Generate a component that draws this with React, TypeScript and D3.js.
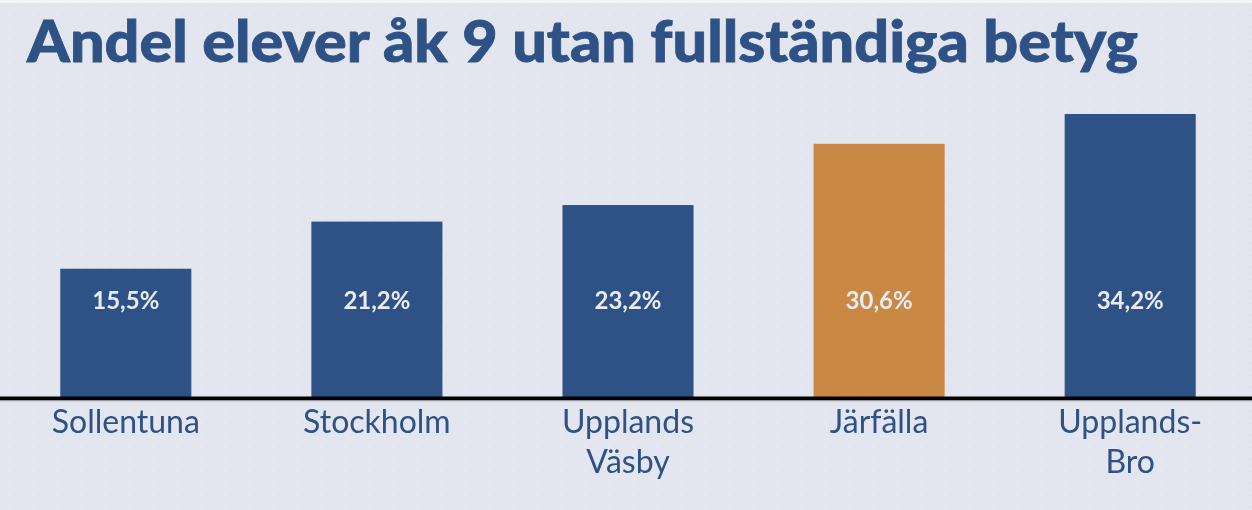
import React, { useRef, useEffect } from 'react';
import * as d3 from 'd3';

const municipalities = ['Sollentuna', 'Stockholm', 'Upplands Väsby', 'Järfälla', 'Upplands-Bro'];
const shares = [15.5, 21.2, 23.2, 30.6, 34.2];
const tickLines = [['Sollentuna'], ['Stockholm'], ['Upplands', 'Väsby'], ['Järfälla'], ['Upplands-', 'Bro']];
const highlighted = 'Järfälla';
const title = 'Andel elever åk 9 utan fullständiga betyg';

const W = 1252;
const H = 510;

const App: React.FC = () => {
  const svgRef = useRef<SVGSVGElement | null>(null);

  useEffect(() => {
    if (!svgRef.current) return;
    const svg = d3.select(svgRef.current);
    svg.selectAll('*').remove();

    const font = 'Lato, "Noto Sans", sans-serif';
    const navy = '#2f5286';
    const baseY = 397;

    // background + faint dot texture
    const defs = svg.append('defs');
    const pat = defs.append('pattern')
      .attr('id', 'dots')
      .attr('width', 12)
      .attr('height', 12)
      .attr('patternUnits', 'userSpaceOnUse');
    pat.append('rect').attr('width', 12).attr('height', 12).attr('fill', '#e3e6ee');
    pat.append('circle').attr('cx', 3).attr('cy', 3).attr('r', 0.6).attr('fill', '#d2d6e0');

    svg.append('rect').attr('width', W).attr('height', H).attr('fill', 'url(#dots)');
    svg.append('rect').attr('width', W).attr('height', 3).attr('fill', '#f4f5f8');

    // Title
    svg.append('text')
      .attr('x', 27)
      .attr('y', 62)
      .attr('fill', navy)
      .attr('font-family', font)
      .attr('font-weight', 900)
      .attr('font-size', 57)
      .attr('stroke', navy)
      .attr('stroke-width', 0.8)
      .attr('textLength', 1111)
      .attr('lengthAdjust', 'spacingAndGlyphs')
      .text(title);

    // Scales
    const x = d3.scaleBand<string>()
      .domain(municipalities)
      .range([0, 1256])
      .paddingInner(0.478)
      .paddingOuter(0.24);

    const y = d3.scaleLinear()
      .domain([0, 34.2])
      .range([baseY, 114]);

    const g = svg.append('g');

    g.selectAll('rect.bar')
      .data(municipalities)
      .enter()
      .append('rect')
      .attr('class', 'bar')
      .attr('x', d => x(d) || 0)
      .attr('width', x.bandwidth())
      .attr('y', (d, i) => y(shares[i]))
      .attr('height', (d, i) => baseY - y(shares[i]))
      .attr('fill', d => (d === highlighted ? '#c98843' : '#2f5286'));

    // Value labels
    g.selectAll('text.val')
      .data(municipalities)
      .enter()
      .append('text')
      .attr('class', 'val')
      .attr('x', d => (x(d) || 0) + x.bandwidth() / 2)
      .attr('y', 309)
      .attr('text-anchor', 'middle')
      .attr('fill', '#e8ebf2')
      .attr('font-family', font)
      .attr('font-weight', 700)
      .attr('font-size', 24)
      .text((d, i) => `${shares[i].toFixed(1).replace('.', ',')}%`);

    // Baseline
    svg.append('line')
      .attr('x1', 0)
      .attr('x2', W)
      .attr('y1', baseY + 1.5)
      .attr('y2', baseY + 1.5)
      .attr('stroke', '#000')
      .attr('stroke-width', 4);
    svg.append('line')
      .attr('x1', 0)
      .attr('x2', W)
      .attr('y1', baseY + 4)
      .attr('y2', baseY + 4)
      .attr('stroke', '#b9bcc4')
      .attr('stroke-width', 1);

    // Category labels
    municipalities.forEach((m, i) => {
      const t = svg.append('text')
        .attr('x', (x(m) || 0) + x.bandwidth() / 2)
        .attr('y', 433)
        .attr('text-anchor', 'middle')
        .attr('fill', navy)
        .attr('font-family', font)
        .attr('font-size', 32);
      tickLines[i].forEach((line, j) => {
        t.append('tspan')
          .attr('x', (x(m) || 0) + x.bandwidth() / 2)
          .attr('dy', j === 0 ? 0 : 40)
          .text(line);
      });
    });
  }, []);

  return (
    <div style={{ position: 'fixed', left: 0, top: 0, width: W, height: H }}>
      <svg ref={svgRef} width={W} height={H} style={{ display: 'block' }} />
    </div>
  );
};

export default App;
